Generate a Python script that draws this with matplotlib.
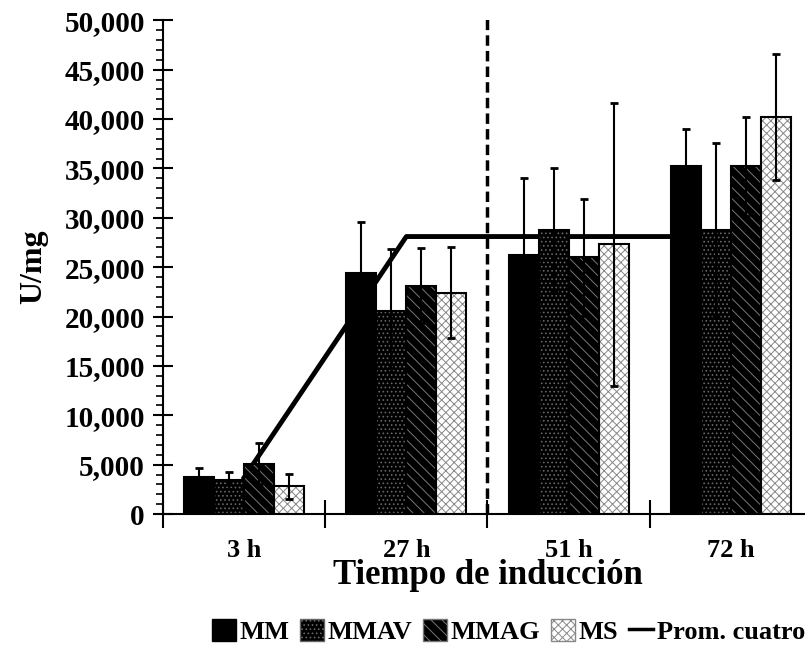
import numpy as np
import matplotlib
matplotlib.use("Agg")
import matplotlib.pyplot as plt
from matplotlib.ticker import MultipleLocator, FuncFormatter
from matplotlib.patches import Patch
from matplotlib.lines import Line2D

# data (U/mg)
categories = ["3 h", "27 h", "51 h", "72 h"]
series = ["MM", "MMAV", "MMAG", "MS"]
mm = [3800, 24400, 26200, 35200]
mmav = [3400, 20600, 28800, 28800]
mmag = [5100, 23100, 26000, 35200]
ms = [2800, 22400, 27300, 40200]
mm_err = [900, 5200, 7800, 3800]
mmav_err = [900, 6200, 6200, 8800]
mmag_err = [2100, 3800, 5900, 5000]
ms_err = [1300, 4600, 14300, 6400]
prom = [3700, 28100, 28100, 28100]
prom_label = "Prom. cuatro"

plt.rcParams["font.family"] = ["Liberation Serif", "DejaVu Serif"]
plt.rcParams["font.weight"] = "bold"
plt.rcParams["hatch.linewidth"] = 0.7

fig = plt.figure(figsize=(8.05, 6.54), dpi=100)
ax = fig.add_axes([0.2025, 0.214, 0.806, 0.755])

x = np.arange(len(categories))
w = 0.185
offsets = [-1.5 * w, -0.5 * w, 0.5 * w, 1.5 * w]
values = [mm, mmav, mmag, ms]
errs = [mm_err, mmav_err, mmag_err, ms_err]
faces = ["black", "black", "black", "white"]
hatches = [None, "....", "\\\\\\", "xxxx"]
hatch_cols = ["black", "#666666", "#777777", "#888888"]

# average line sits behind the bars
ax.plot(x, prom, color="black", lw=3.5, zorder=1)

for vals, er, off, fc, hc, hcol in zip(values, errs, offsets, faces, hatches, hatch_cols):
    ax.bar(x + off, vals, w, color=fc, edgecolor=hcol, hatch=hc, linewidth=0, zorder=2)
    ax.bar(x + off, vals, w, fill=False, edgecolor="black", linewidth=1.5, zorder=3)
    ax.errorbar(x + off, vals, yerr=er, fmt="none", ecolor="black",
                elinewidth=1.5, capsize=3, capthick=2, zorder=4)

ax.axvline(1.5, ymin=0, ymax=1.005, color="black", lw=2.5, ls=(0, (3, 1.5)), zorder=5)

ax.set_xlim(-0.5, 3.5)
ax.set_ylim(0, 50000)
ax.spines["top"].set_visible(False)
ax.spines["right"].set_visible(False)
ax.spines["left"].set_linewidth(1.5)
ax.spines["bottom"].set_linewidth(1.5)

ax.yaxis.set_major_locator(MultipleLocator(5000))
ax.yaxis.set_minor_locator(MultipleLocator(1000))
ax.yaxis.set_major_formatter(FuncFormatter(lambda v, p: f"{int(v):,}"))
ax.tick_params(axis="y", which="major", direction="inout", length=14, width=1.5,
               labelsize=21, pad=6)
ax.tick_params(axis="y", which="minor", direction="out", length=5, width=1.2)

ax.set_xticks(np.arange(-0.5, 4.0, 1.0))
ax.set_xticklabels([])
ax.set_xticks(x, minor=True)
ax.set_xticklabels(categories, minor=True)
ax.tick_params(axis="x", which="major", direction="inout", length=20, width=1.5)
ax.tick_params(axis="x", which="minor", length=0, labelsize=19, pad=18)

ax.set_ylabel("U/mg", fontsize=23, fontweight="bold", labelpad=12)
ax.set_xlabel("Tiempo de inducción", fontsize=25, fontweight="bold", labelpad=-2)

handles = [
    Patch(facecolor="black", edgecolor="black"),
    Patch(facecolor="black", edgecolor="#666666", hatch="...."),
    Patch(facecolor="black", edgecolor="#777777", hatch="\\\\\\"),
    Patch(facecolor="white", edgecolor="#888888", hatch="xxxx"),
    Line2D([0], [0], color="black", lw=2.5),
]
fig.legend(handles, series + [prom_label], loc="center left",
           bbox_to_anchor=(0.25, 0.034), ncol=5, frameon=False, fontsize=19,
           handlelength=0.9, handleheight=0.9, handletextpad=0.15,
           columnspacing=0.4, borderaxespad=0)

fig.savefig("out.png", dpi=100)
